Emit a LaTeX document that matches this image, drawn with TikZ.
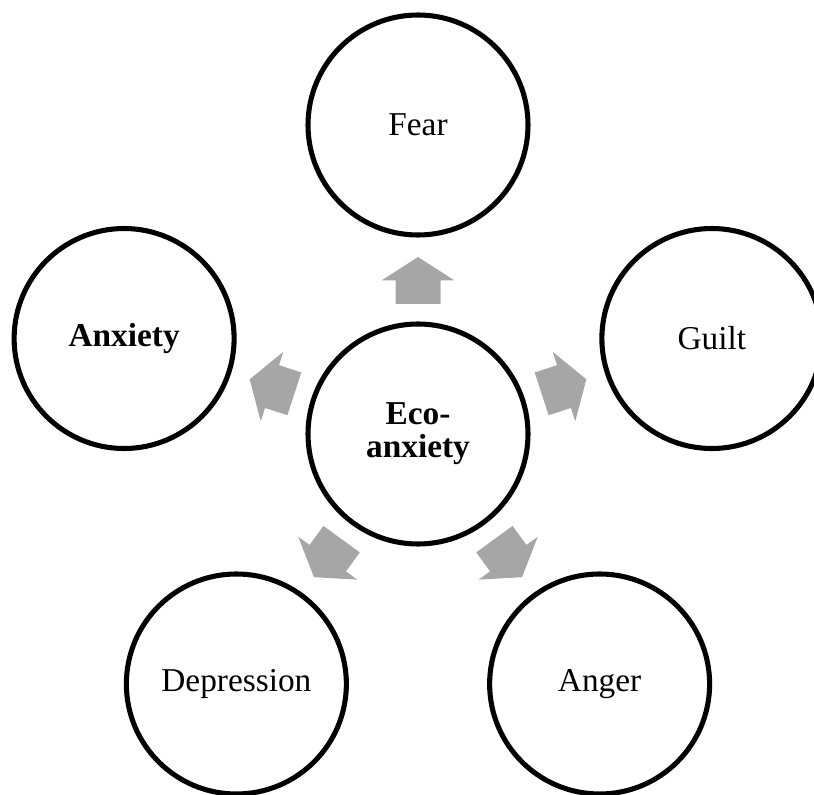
\documentclass[tikz,border=0pt]{standalone}
\usepackage{fontspec}
\setmainfont{Liberation Serif}
\usetikzlibrary{calc}
\tikzset{
  bubble/.style={circle, draw=black, line width=3.8pt, fill=white,
    minimum size=165pt, inner sep=0pt, align=center,
    font=\fontsize{25}{25}\selectfont},
  arrowfill/.style={fill=black!35, draw=none}
}
\begin{document}
\begin{tikzpicture}[x=0.75pt,y=0.75pt]
\useasboundingbox (0,0) rectangle (814,794);
\coordinate (c) at (418,360);
\node[bubble, font=\fontsize{25}{25}\selectfont\bfseries] (eco) at (c) {Eco-\\anxiety};
\node[bubble] (fear) at ($(c)+(90:309)$) {Fear};
\node[bubble] (guilt) at ($(c)+(18:309)$) {Guilt};
\node[bubble] (anger) at ($(c)+(306:309)$) {Anger};
\node[bubble] (depression) at ($(c)+(234:309)$) {Depression};
\node[bubble, font=\fontsize{25}{25}\selectfont\bfseries] (anxiety) at ($(c)+(162:309)$) {Anxiety};
\foreach \a in {90,162,18,234,306} {
  \fill[arrowfill, shift={(c)}, rotate=\a]
    (130,-22.5) -- (153.5,-22.5) -- (153.5,-36.5) -- (177,0)
    -- (153.5,36.5) -- (153.5,22.5) -- (130,22.5) -- cycle;
}
\end{tikzpicture}
\end{document}
